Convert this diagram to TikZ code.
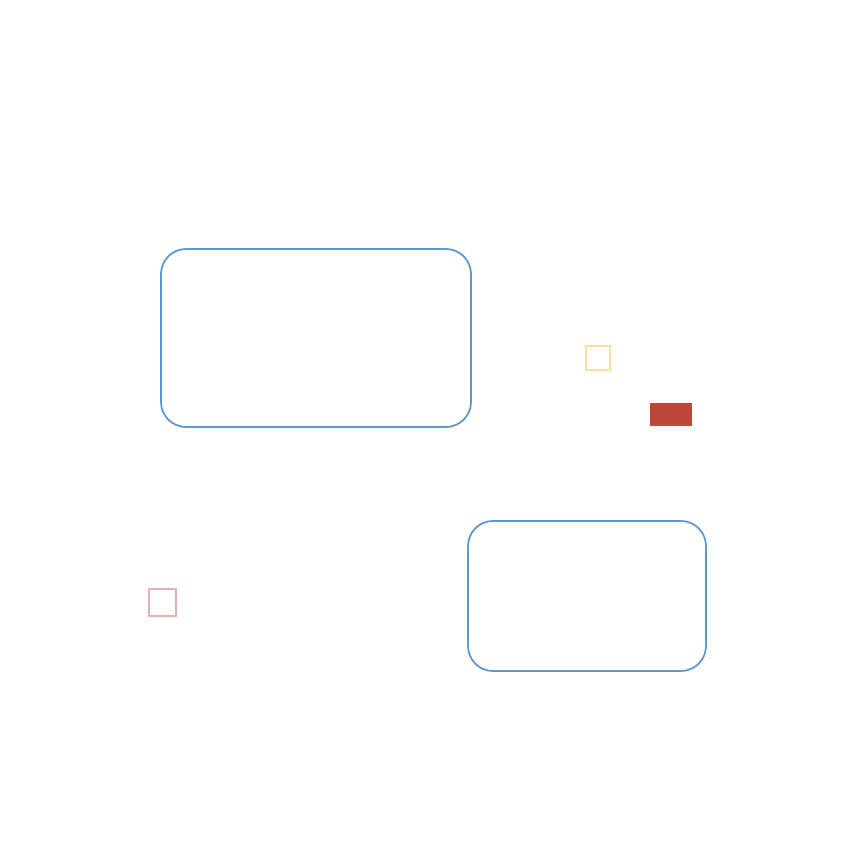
\documentclass[tikz,border=0pt]{standalone}
\usepackage{xcolor}
\usepackage{tikz}
\usetikzlibrary{positioning}

\definecolor{boxblue}{HTML}{5E96D0}
\definecolor{lightgold}{HTML}{FFDC98}
\definecolor{brickred}{HTML}{C0463A}
\definecolor{palered}{HTML}{E8B0B0}

\begin{document}
\begin{tikzpicture}[
  panel/.style={draw=boxblue,line width=1pt,rounded corners=0.5cm,inner sep=0pt},
  marker/.style={inner sep=0pt,line width=0.6pt}]
  \useasboundingbox (0,0) rectangle (16.96,16.96);
  \node[panel,minimum width=6.2cm,minimum height=3.56cm] (upper) at (6.32,10.2) {};
  \node[panel,minimum width=4.76cm,minimum height=3cm] (lower) at (11.74,5.04) {};
  \node[marker,draw=lightgold,minimum size=0.48cm] (goldsq) at (11.96,9.8) {};
  \node[marker,fill=brickred,minimum width=0.84cm,minimum height=0.46cm] (redbar) at (13.42,8.67) {};
  \node[marker,draw=palered,minimum size=0.54cm] (pinksq) at (3.25,4.91) {};
\end{tikzpicture}
\end{document}
